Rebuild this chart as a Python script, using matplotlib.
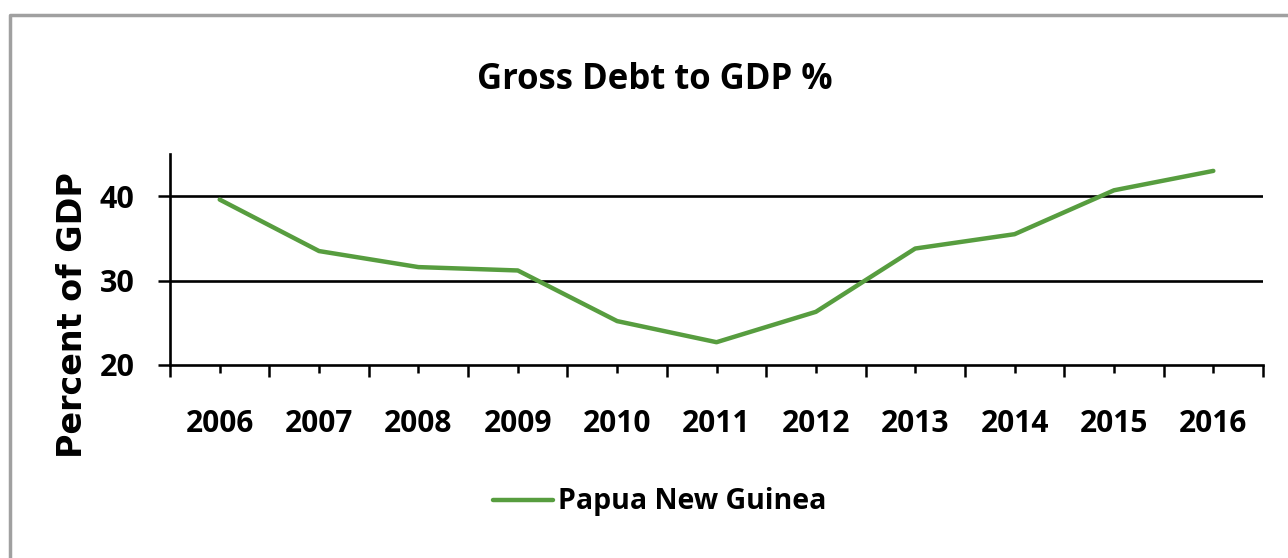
import matplotlib.pyplot as plt
from matplotlib.lines import Line2D
import numpy as np

years = ["2006", "2007", "2008", "2009", "2010", "2011",
         "2012", "2013", "2014", "2015", "2016"]
debt_pct = [39.6, 33.5, 31.6, 31.2, 25.2, 22.7, 26.3, 33.8, 35.5, 40.7, 43.0]
y_ticks = [20, 30, 40]

line_color = "#579d3f"
label_font = "Open Sans"

fig = plt.figure(figsize=(12.88, 5.58), dpi=100)
ax = fig.add_axes([0.132, 0.3459, 0.8486, 0.3781])

x = np.arange(len(years))
line, = ax.plot(x, debt_pct, color=line_color, lw=3.2, solid_capstyle="round",
                label="Papua New Guinea", zorder=3)

ax.set_xlim(-0.5, len(years) - 0.5)
ax.set_ylim(20, 45)

# category labels at centers, boundary ticks as minor ticks
ax.set_xticks(x)
ax.set_xticklabels(years, fontfamily=label_font, fontweight="bold", fontsize=21.5)
ax.set_xticks(np.arange(len(years) + 1) - 0.5, minor=True)
ax.tick_params(axis="x", which="major", direction="out", length=6, width=1.8,
               pad=26, color="black")
ax.tick_params(axis="x", which="minor", direction="out", length=8.5, width=1.8)

ax.set_yticks(y_ticks)
ax.set_yticklabels([str(v) for v in y_ticks], fontfamily=label_font,
                   fontweight="bold", fontsize=22)
ax.tick_params(axis="y", direction="out", length=8.6, width=1.8, pad=17)

for v in y_ticks[1:]:
    ax.axhline(v, color="black", lw=1.9, zorder=1)

for side in ["top", "right"]:
    ax.spines[side].set_visible(False)
for side in ["left", "bottom"]:
    ax.spines[side].set_linewidth(1.9)
    ax.spines[side].set_color("black")

fig.text(0.5085, 0.8566, "Gross Debt to GDP %", ha="center", va="center",
         fontfamily=label_font, fontweight="bold", fontsize=25)
fig.text(72 / 1288, 0.4346, "Percent of GDP", rotation=90, ha="center",
         va="center", fontfamily="DejaVu Sans", fontweight="bold", fontsize=24)

fig.legend(handles=[line], loc="center left", bbox_to_anchor=(493 / 1288, 0.1004),
           frameon=False, borderpad=0, borderaxespad=0, handlelength=2.1,
           handletextpad=0.2,
           prop={"family": label_font, "weight": "bold", "size": 20.5})

# grey outer frame (left and top edges)
fig.add_artist(Line2D([10 / 1288, 10 / 1288, 1.0], [0.0, 1 - 15 / 558, 1 - 15 / 558],
                      transform=fig.transFigure, color="#a0a0a0", lw=2.5))

fig.savefig("out.png", dpi=100)
